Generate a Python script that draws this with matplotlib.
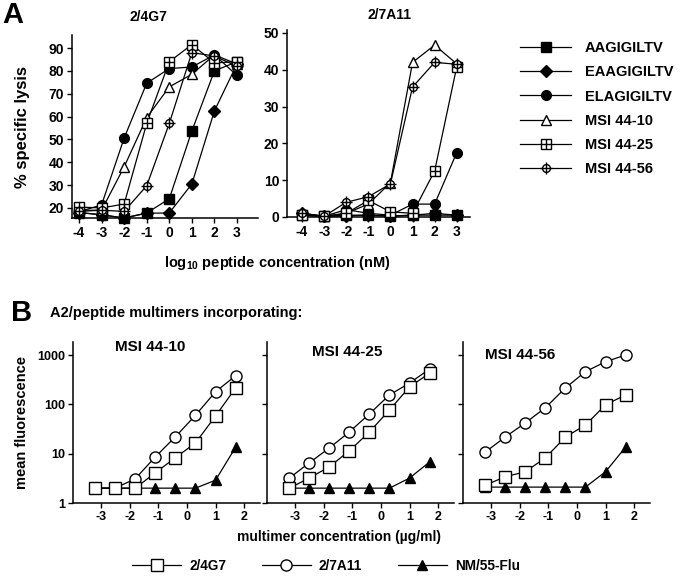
import matplotlib
matplotlib.use("Agg")
import matplotlib.pyplot as plt
from matplotlib.ticker import FixedLocator, NullLocator

plt.rcParams['font.family'] = ['Liberation Sans', 'DejaVu Sans']
plt.rcParams['font.weight'] = 'bold'
plt.rcParams['axes.unicode_minus'] = False
plt.rcParams['mathtext.fontset'] = 'custom'
plt.rcParams['mathtext.rm'] = 'Liberation Sans:bold'
plt.rcParams['mathtext.bf'] = 'Liberation Sans:bold'

# ---- panel A data: % specific lysis vs log10 peptide concentration
pep_x = [-4, -3, -2, -1, 0, 1, 2, 3]
peptides = ["AAGIGILTV", "EAAGIGILTV", "ELAGIGILTV", "MSI 44-10", "MSI 44-25", "MSI 44-56"]

lysis_4g7 = {
    "AAGIGILTV":  [18, 17, 15.6, 17.8, 24, 53.7, 80, 84],
    "EAAGIGILTV": [18, 17, 15.6, 17.7, 17.8, 30.5, 62.5, 83],
    "ELAGIGILTV": [18.4, 21.3, 50.6, 74.6, 81, 81.7, 87, 78],
    "MSI 44-10":  [19, 19, 38, 59.5, 73, 78.5, 87, 83],
    "MSI 44-25":  [20.4, 20, 21.7, 57, 84, 91.5, 83.5, 84],
    "MSI 44-56":  [18.5, 19, 18.5, 29.7, 57, 88, 86.5, 82],
}
lysis_7a11 = {
    "AAGIGILTV":  [0.5, 0.2, 0.5, 0.5, 0.3, 0.5, 0.5, 0.5],
    "EAAGIGILTV": [1, 0.2, 0.3, 0.5, 0.2, 0.5, 1, 0.5],
    "ELAGIGILTV": [0.5, 0.2, 2, 1, 0.5, 3.5, 3.5, 17.5],
    "MSI 44-10":  [1, 0.2, 1, 3.5, 9.3, 42, 46.7, 41.6],
    "MSI 44-25":  [0.5, 0.2, 1, 4.5, 1.4, 1, 12.5, 40.8],
    "MSI 44-56":  [1, 0.2, 4, 5.5, 9, 35.3, 42, 41.5],
}

# ---- panel B data: mean fluorescence vs log10 multimer concentration
mult_x = [-3.19, -2.5, -1.8, -1.1, -0.4, 0.3, 1.0, 1.7]
multimers = ["MSI 44-10", "MSI 44-25", "MSI 44-56"]
clones = ["2/4G7", "2/7A11", "NM/55-Flu"]
fluor = {
    "MSI 44-10": {
        "NM/55-Flu": [2, 2, 2, 2, 2, 2, 2.9, 13.5],
        "2/7A11":    [2, 2, 3.1, 8.6, 22, 60, 180, 380],
        "2/4G7":     [2, 2, 2, 4.1, 8.3, 16.5, 58, 215],
    },
    "MSI 44-25": {
        "NM/55-Flu": [2, 2, 2, 2, 2, 2, 3.2, 6.8],
        "2/7A11":    [3.2, 6.5, 13, 27.5, 64, 155, 270, 520],
        "2/4G7":     [2, 3.2, 5.4, 11.4, 27.5, 77, 225, 430],
    },
    "MSI 44-56": {
        "NM/55-Flu": [2.1, 2.1, 2.1, 2.1, 2.1, 2.1, 4.3, 13.6],
        "2/7A11":    [10.8, 21.7, 42, 85, 215, 460, 730, 1000],
        "2/4G7":     [2.3, 3.4, 4.3, 8.2, 21.7, 38, 98, 155],
    },
}

W, H = 684, 582
fig = plt.figure(figsize=(W / 100, H / 100), dpi=100)


def box(l, t, r, b):
    return [l / W, 1 - b / H, (r - l) / W, (b - t) / H]


lw = 0.9
ms_a = 7


def pep_style(name):
    # list of (marker, size, face) layers drawn on top of each other
    if name == "AAGIGILTV":
        return [("s", ms_a, "black")]
    if name == "EAAGIGILTV":
        return [("D", ms_a * 0.85, "black")]
    if name == "ELAGIGILTV":
        return [("o", ms_a, "black")]
    if name == "MSI 44-10":
        return [("^", ms_a * 1.05, "white")]
    if name == "MSI 44-25":
        return [("s", ms_a, "white"), ("+", ms_a, "none")]
    return [("o", ms_a * 0.8, "white"), ("+", ms_a * 1.15, "none")]


def style_axes(ax, size):
    for s in ["top", "right"]:
        ax.spines[s].set_visible(False)
    for s in ["left", "bottom"]:
        ax.spines[s].set_linewidth(1.1)
    ax.tick_params(direction="out", length=3.5, width=1, labelsize=size, pad=2)


axA1 = fig.add_axes(box(72, 35, 258, 218))
axA2 = fig.add_axes(box(287, 30, 470, 217))
handles = {}
for ax, data in [(axA1, lysis_4g7), (axA2, lysis_7a11)]:
    for name in peptides:
        layers = pep_style(name)
        ax.plot(pep_x, data[name], color="black", lw=lw, zorder=2, clip_on=False)
        hs = []
        for mk, sz, fc in layers:
            h, = ax.plot(pep_x, data[name], ls="none", marker=mk, ms=sz,
                         mfc=fc, mec="black", mew=1.0, zorder=3, clip_on=False)
            hs.append(h)
        handles[name] = hs
    style_axes(ax, 10)
    ax.set_xticks(pep_x)

axA1.set_xlim(-4.31, 3.93)
axA1.set_ylim(15.6, 95.7)
axA1.set_yticks([20, 30, 40, 50, 60, 70, 80, 90])
axA1.set_ylabel("% specific lysis", fontsize=12, fontweight="bold")
axA1.yaxis.set_label_coords(-0.225, 0.5)
axA1.set_title("2/4G7", fontsize=10, fontweight="bold", pad=10, x=0.41)

axA2.set_xlim(-4.68, 3.6)
axA2.set_ylim(0, 50.8)
axA2.set_yticks([0, 10, 20, 30, 40, 50])
axA2.set_title("2/7A11", fontsize=10, fontweight="bold", pad=8, x=0.56)

fig.text(13 / W, 1 - 15 / H, "A", fontsize=21, fontweight="bold", ha="center", va="center")
fig.text(277 / W, 1 - 263 / H, r"log$_{10}$ peptide concentration (nM)",
         fontsize=10.5, fontweight="bold", ha="center", va="center")

leg_lines = []
for name in peptides:
    line, = axA1.plot([], [], color="black", lw=lw)
    leg_lines.append(tuple([line] + handles[name]))
fig.legend(leg_lines, peptides, loc="upper left", bbox_to_anchor=(507 / W, 1 - 28 / H),
           frameon=False, handlelength=3.5, labelspacing=0.7,
           handletextpad=0.95, prop={"weight": "bold", "size": 10.5})

# ---- panel B
fig.text(22 / W, 1 - 313 / H, "B", fontsize=21, fontweight="bold", ha="center", va="center")
fig.text(50 / W, 1 - 313 / H, "A2/peptide multimers incorporating:",
         fontsize=10.5, fontweight="bold", ha="left", va="center")

clone_style = {
    "2/4G7": ("s", 8, "white"),
    "2/7A11": ("o", 8, "white"),
    "NM/55-Flu": ("^", 7.5, "black"),
}
lefts = [73, 267, 463]
label_x = [0.225, 0.24, 0.12]
label_y = [0.97, 0.94, 0.92]
bhandles = {}
for i, mname in enumerate(multimers):
    l = lefts[i]
    ax = fig.add_axes(box(l, 342, l + 187, 503))
    for c in ["NM/55-Flu", "2/7A11", "2/4G7"]:
        mk, sz, fc = clone_style[c]
        h, = ax.plot(mult_x, fluor[mname][c], color="black", lw=lw, marker=mk, ms=sz,
                     mfc=fc, mec="black", mew=1.0, clip_on=False)
        bhandles[c] = h
    ax.set_yscale("log")
    ax.set_ylim(1, 1835)
    ax.set_xlim(-3.97, 2.55)
    ax.yaxis.set_major_locator(FixedLocator([1, 10, 100, 1000]))
    ax.yaxis.set_minor_locator(NullLocator())
    ax.set_xticks([-3, -2, -1, 0, 1, 2])
    style_axes(ax, 9)
    if i == 0:
        ax.set_yticklabels(["1", "10", "100", "1000"])
        ax.set_ylabel("mean fluorescence", fontsize=10.5, fontweight="bold")
        ax.yaxis.set_label_coords(-0.235, 0.5)
    else:
        ax.set_yticklabels([])
    ax.text(label_x[i], label_y[i], mname, transform=ax.transAxes, fontsize=11,
            fontweight="bold", ha="left", va="center")

fig.text(339 / W, 1 - 537 / H, "multimer concentration (µg/ml)",
         fontsize=10, fontweight="bold", ha="center", va="center")
fig.legend([bhandles[c] for c in clones], clones, loc="center",
           bbox_to_anchor=(326 / W, 1 - 566 / H), ncol=3, frameon=False,
           handlelength=3.6, columnspacing=2.6, handletextpad=0.6,
           prop={"weight": "bold", "size": 9.8})

fig.savefig("out.png", dpi=100)
